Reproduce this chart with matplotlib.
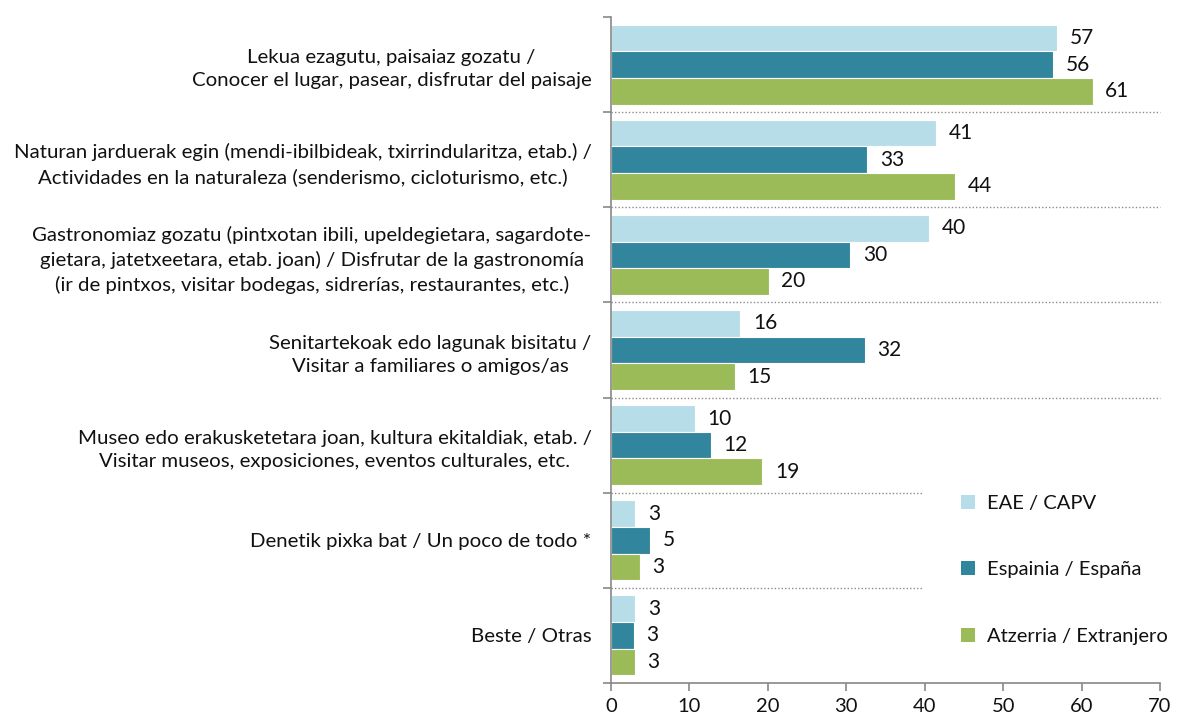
import matplotlib.pyplot as plt
from matplotlib.patches import Patch

# Categories (top to bottom) and series values, % of respondents
categories = [
    'Lekua ezagutu, paisaiaz gozatu /\nConocer el lugar, pasear, disfrutar del paisaje',
    'Naturan jarduerak egin (mendi-ibilbideak, txirrindularitza, etab.) /\nActividades en la naturaleza (senderismo, cicloturismo, etc.)',
    'Gastronomiaz gozatu (pintxotan ibili, upeldegietara, sagardote-\ngietara, jatetxeetara, etab. joan) / Disfrutar de la gastronomía\n(ir de pintxos, visitar bodegas, sidrerías, restaurantes, etc.)',
    'Senitartekoak edo lagunak bisitatu /\nVisitar a familiares o amigos/as',
    'Museo edo erakusketetara joan, kultura ekitaldiak, etab. /\nVisitar museos, exposiciones, eventos culturales, etc.',
    'Denetik pixka bat / Un poco de todo *',
    'Beste / Otras',
]
series_names = ['EAE / CAPV', 'Espainia / España', 'Atzerria / Extranjero']
eae = [56.9, 41.5, 40.6, 16.5, 10.7, 3.1, 3.1]
espainia = [56.4, 32.7, 30.5, 32.4, 12.7, 5.0, 2.9]
atzerria = [61.4, 43.9, 20.1, 15.8, 19.3, 3.7, 3.0]
labels_eae = [57, 41, 40, 16, 10, 3, 3]
labels_esp = [56, 33, 30, 32, 12, 5, 3]
labels_atz = [61, 44, 20, 15, 19, 3, 3]
xticks = [0, 10, 20, 30, 40, 50, 60, 70]

colors = ['#B7DEE8', '#31859C', '#9BBB59']
plt.rcParams['font.family'] = ['Lato', 'DejaVu Sans']

fig = plt.figure(figsize=(11.78, 7.15), dpi=100)
ax = fig.add_axes([611 / 1178, 1 - 683 / 715, 549 / 1178, 666 / 715])

n = len(categories)
centers = [i + 0.5 for i in range(n)]
h = 0.28
offsets = [-h, 0, h]
all_vals = [eae, espainia, atzerria]
all_labels = [labels_eae, labels_esp, labels_atz]

for vals, labs, off, col in zip(all_vals, all_labels, offsets, colors):
    ys = [c + off for c in centers]
    ax.barh(ys, vals, height=h, color=col, edgecolor='white', linewidth=0.8)
    for y, v, lab in zip(ys, vals, labs):
        ax.annotate(str(lab), (v, y), xytext=(9, 0), textcoords='offset points',
                    va='center', ha='left', fontsize=15, color='#111111')

# dotted separators between groups
for k in range(1, n):
    xmax = 70 if k <= 4 else 39.8
    ax.plot([0, xmax], [k, k], linestyle=(0, (1, 1.5)), color='#8c8c8c',
            linewidth=1, clip_on=False)

ax.set_xlim(0, 70)
ax.set_ylim(n, 0)
ax.set_xticks(xticks)
ax.set_xticklabels([str(t) for t in xticks], fontsize=14.5, color='#111111')
ax.set_yticks(centers)
ax.set_yticklabels(categories, fontsize=14.7, multialignment='center',
                   linespacing=1.45, color='#111111')
ax.set_yticks(list(range(n + 1)), minor=True)
ax.tick_params(axis='y', which='major', length=0, pad=14)
ax.tick_params(axis='y', which='minor', length=6, color='#888888', width=1.2)
ax.tick_params(axis='x', length=6, color='#888888', width=1.2, pad=5)

for s in ['top', 'right']:
    ax.spines[s].set_visible(False)
for s in ['left', 'bottom']:
    ax.spines[s].set_color('#888888')
    ax.spines[s].set_linewidth(1.2)

handles = [Patch(facecolor=c, edgecolor='none') for c in colors]
leg = ax.legend(handles, series_names, loc='upper left', bbox_to_anchor=(0.605, 0.31),
                frameon=False, fontsize=14.5, handlelength=0.7, handleheight=0.7,
                labelspacing=2.45, handletextpad=0.6)
for t in leg.get_texts():
    t.set_color('#111111')

fig.savefig('out.png', dpi=100)
